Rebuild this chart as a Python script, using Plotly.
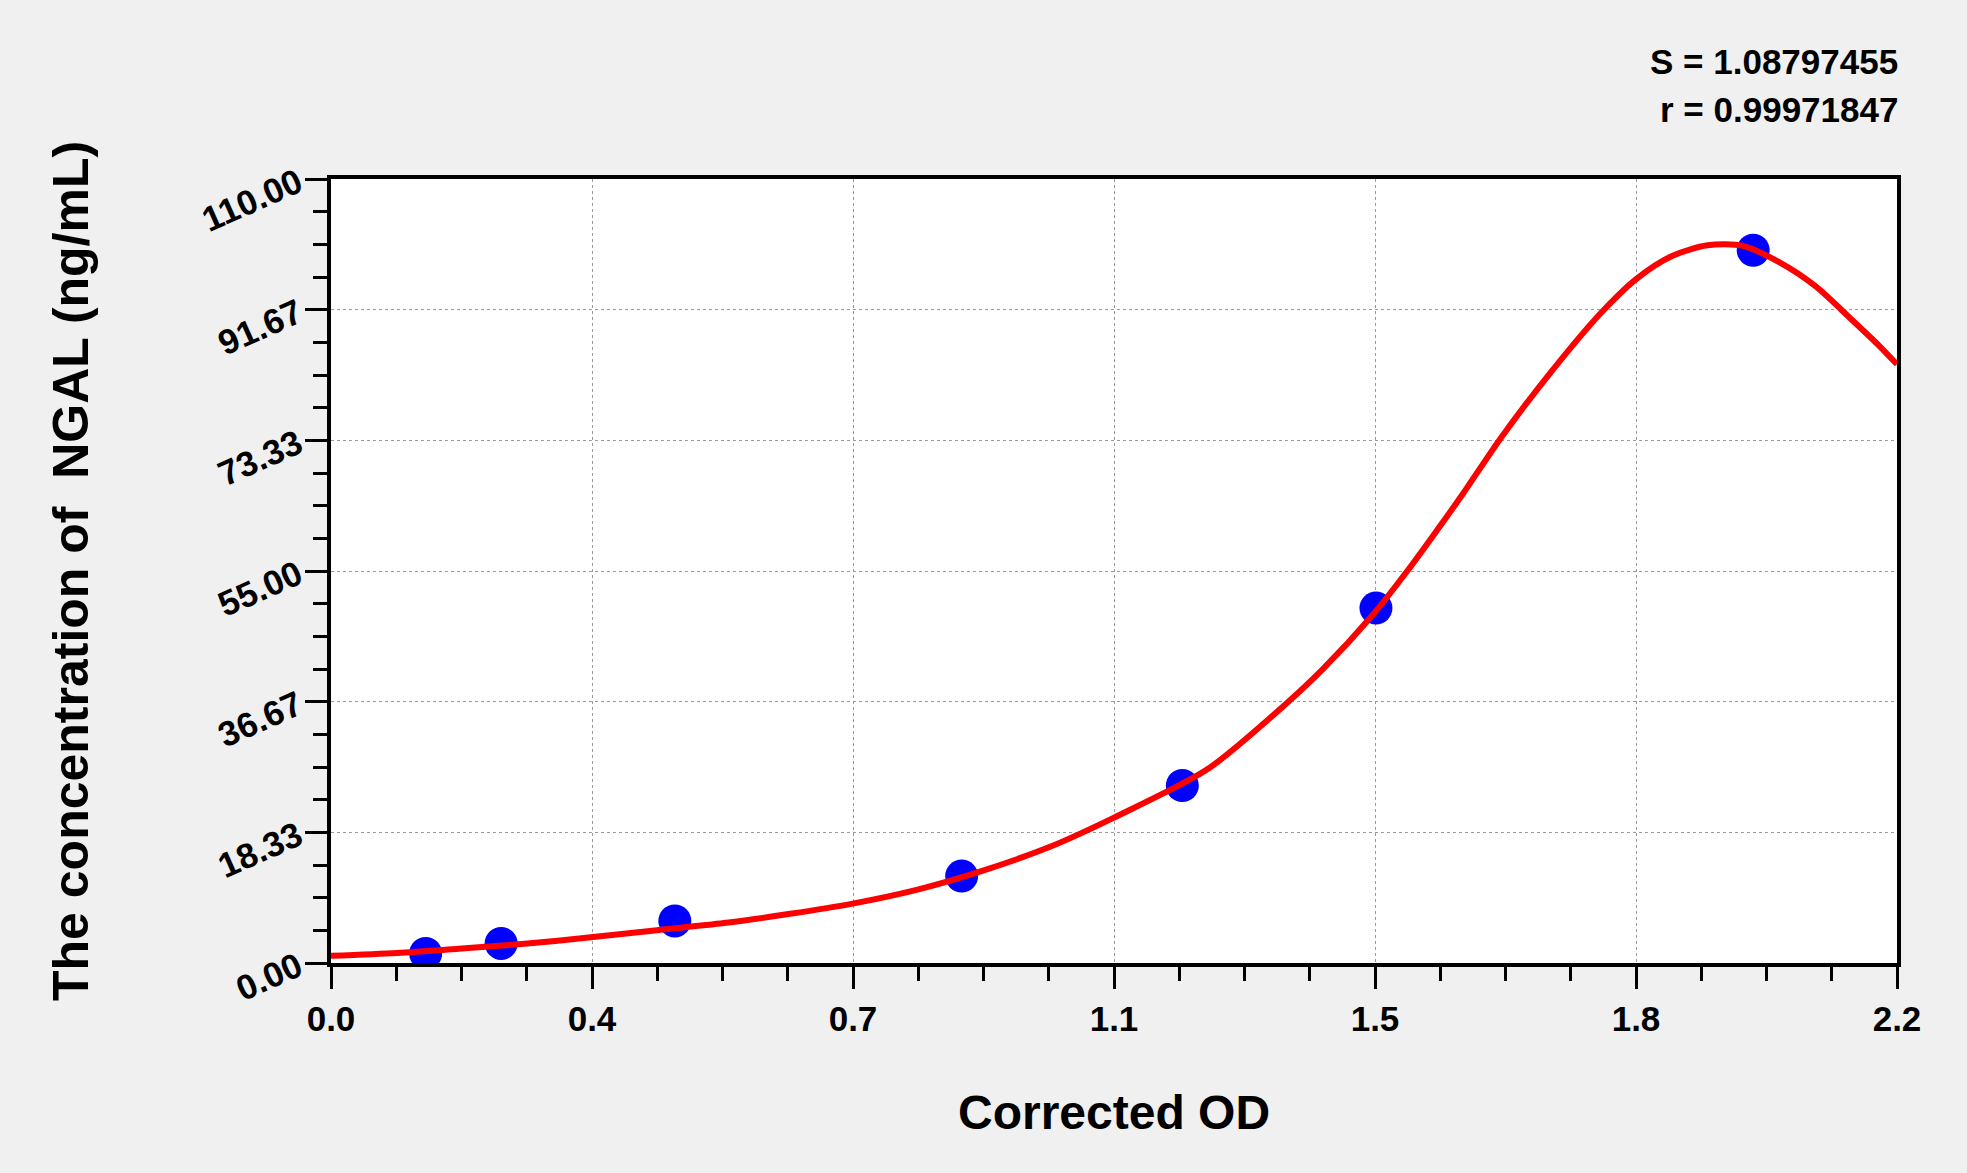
import plotly.graph_objects as go

# standard points (corrected OD vs concentration)
od_points = [0.133, 0.239, 0.483, 0.886, 1.196, 1.468, 1.998]
conc_points = [1.35, 2.75, 5.9, 12.2, 24.9, 49.8, 100.0]

# fitted curve
curve_od = [0.000, 0.093, 0.179, 0.272, 0.365, 0.458, 0.552, 0.645, 0.731, 0.824,
            0.917, 1.010, 1.100, 1.230, 1.316, 1.392, 1.464, 1.512, 1.553, 1.590,
            1.643, 1.713, 1.784, 1.834, 1.884, 1.934, 1.984, 2.035, 2.085, 2.135,
            2.175, 2.200]
curve_conc = [1.0, 1.4, 2.0, 2.7, 3.6, 4.6, 5.6, 6.9, 8.3, 10.3,
              13.0, 16.3, 20.4, 27.1, 34.1, 41.1, 48.9, 55.0, 60.6, 65.8,
              73.6, 82.8, 91.2, 96.0, 99.2, 100.7, 100.6, 98.3, 95.0, 90.4,
              86.6, 84.0]

x_tickvals = [0.0, 0.36667, 0.73333, 1.1, 1.46667, 1.83333, 2.2]
x_ticktext = ["0.0", "0.4", "0.7", "1.1", "1.5", "1.8", "2.2"]
y_tickvals = [0.0, 18.333, 36.667, 55.0, 73.333, 91.667, 110.0]
y_ticktext = ["0.00", "18.33", "36.67", "55.00", "73.33", "91.67", "110.00"]

fit_text = ["S = 1.08797455", "r = 0.99971847"]

FONT = "Liberation Sans, Arial, sans-serif"

fig = go.Figure()

fig.add_trace(go.Scatter(x=od_points, y=conc_points, mode="markers",
                         marker=dict(size=33, color="#0000ff"), showlegend=False))
fig.add_trace(go.Scatter(x=curve_od, y=curve_conc, mode="lines",
                         line=dict(color="#ff0000", width=6, shape="spline", smoothing=0.8),
                         showlegend=False))

axis_common = dict(
    showline=True, linecolor="black", linewidth=4, mirror=True,
    ticks="outside", ticklen=22, tickwidth=3, tickcolor="black",
    showgrid=True, gridcolor="#9a9a9a", gridwidth=1, griddash="dot",
    zeroline=False,
)

fig.update_xaxes(range=[0, 2.2], tickmode="array", tickvals=x_tickvals,
                 ticktext=x_ticktext,
                 tickfont=dict(family=FONT, size=35, color="black", weight="bold"),
                 minor=dict(dtick=0.0916667, tick0=0, ticks="outside", ticklen=14,
                            tickwidth=3, tickcolor="black", showgrid=False),
                 **axis_common)
fig.update_yaxes(range=[0, 110], tickmode="array", tickvals=y_tickvals,
                 ticktext=y_ticktext, tickangle=-24,
                 tickfont=dict(family=FONT, size=35, color="black", weight="bold"),
                 minor=dict(dtick=4.58333, tick0=0, ticks="outside", ticklen=14,
                            tickwidth=3, tickcolor="black", showgrid=False),
                 **axis_common)

title_font = dict(family=FONT, size=50, color="black", weight="bold")
fig.add_annotation(text="Corrected OD", xref="paper", yref="paper", x=0.5, y=0,
                   xanchor="center", yanchor="middle", yshift=-149,
                   showarrow=False, font=dict(family=FONT, size=48, color="black", weight="bold"))
fig.add_annotation(text="The concentration of  NGAL (ng/mL)", xref="paper", yref="paper",
                   x=0, y=0.5, xanchor="center", yanchor="middle", xshift=-260,
                   textangle=-90, showarrow=False, font=title_font)

for i, t in enumerate(fit_text):
    fig.add_annotation(text=t, xref="paper", yref="paper", x=1, y=1,
                       xanchor="right", yanchor="middle", xshift=3,
                       yshift=118 - 48 * i, showarrow=False,
                       font=dict(family=FONT, size=35, color="black", weight="bold"))

fig.update_layout(
    width=1967, height=1173,
    margin=dict(l=331, r=70, t=179, b=210),
    paper_bgcolor="#f0f0f0", plot_bgcolor="white",
)

fig.write_html("out.html", config={"displayModeBar": False},
               post_script="document.body.style.margin='0';"
                           "document.body.style.background='#f0f0f0';")
